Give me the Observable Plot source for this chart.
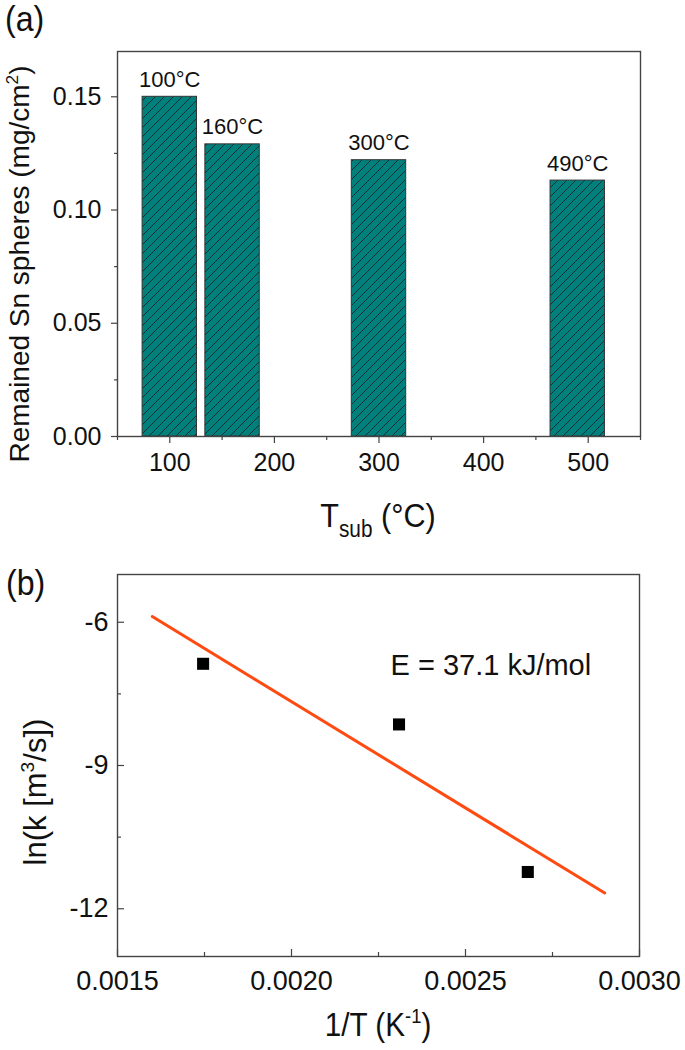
<!DOCTYPE html>
<html><head><meta charset="utf-8">
<script src="https://cdn.jsdelivr.net/npm/d3@7"></script>
<script src="https://cdn.jsdelivr.net/npm/@observablehq/plot@0.6"></script>
<style>
html,body{margin:0;padding:0;background:#fff;}
#wrap{width:685px;height:1050px;position:relative;overflow:hidden;}
#wrap svg{display:block;overflow:visible;}
</style></head><body>
<svg width="0" height="0" style="position:absolute">
<defs>
<pattern id="hatch" patternUnits="userSpaceOnUse" width="9" height="9">
<rect width="9" height="9" fill="#00807d"/>
<path d="M-2,2 L2,-2 M0,9 L9,0 M7,11 L11,7" stroke="#12302f" stroke-width="1"/>
</pattern>
</defs></svg>
<div id="wrap"></div>
<script>
// ---------- Panel (a) data ----------
const temps = [100, 160, 300, 490];
const remained = [0.150, 0.129, 0.122, 0.113];
const barLabels = ["100°C", "160°C", "300°C", "490°C"];
const xTicksA = [100, 200, 300, 400, 500];
const xMinorA = [50, 150, 250, 350, 450, 550];
const yTicksA = [0, 0.05, 0.10, 0.15];
const yMinorA = [0.025, 0.075, 0.125];

// ---------- Panel (b) data ----------
const invT = [0.001746, 0.002309, 0.002679];
const lnK = [-6.87, -8.14, -11.23];
const fitInvT = [0.0016, 0.0029];
const fitLnK = [-5.88, -11.67];
const xTicksB = [0.0015, 0.0020, 0.0025, 0.0030];
const xMinorB = [0.00175, 0.00225, 0.00275];
const yTicksB = [-6, -9, -12];
const yMinorB = [-7.5, -10.5];
const annotation = ["E = 37.1 kJ/mol"];

const FONT = "'Liberation Sans', Arial, Helvetica, sans-serif";
const AX = "#444";

function addText(svg, x, y, size, parts, rotate, anchor, sx) {
  const t = d3.select(svg).append("text")
    .attr("transform", `translate(${x},${y})` + (rotate ? ` rotate(${rotate})` : "") + (sx ? ` scale(${sx},1)` : ""))
    .attr("text-anchor", anchor || "middle")
    .attr("font-family", FONT)
    .attr("font-size", size)
    .attr("fill", "#111");
  let shift = 0;
  for (const [str, kind] of parts) {
    let target = 0, fs = size;
    if (kind === "sup") { target = -0.4 * size; fs = 0.62 * size; }
    if (kind === "sub") { target = 0.3 * size; fs = 0.68 * size; }
    t.append("tspan").attr("dy", target - shift).attr("font-size", fs).text(str);
    shift = target;
  }
  return t;
}

const wrap = document.getElementById("wrap");

// ---------- Chart (a) ----------
const bars = temps.map((t, i) => ({t, v: remained[i], label: barLabels[i]}));
const chartA = Plot.plot({
  width: 685, height: 550,
  marginTop: 51, marginLeft: 117, marginRight: 45, marginBottom: 114,
  style: {fontFamily: FONT, background: "white", color: "#222", overflow: "visible"},
  x: {domain: [50, 550]},
  y: {domain: [0, 0.17]},
  marks: [
    Plot.rect(bars, {x1: d => d.t - 26, x2: d => d.t + 26, y1: 0, y2: "v",
      fill: "url(#hatch)", stroke: "#333", strokeWidth: 1}),
    Plot.text(bars, {x: "t", y: "v", text: "label", lineAnchor: "bottom", dy: -10,
      fontSize: 22, fill: "#111"}),
    Plot.frame({stroke: AX, strokeWidth: 1.4}),
    Plot.axisX({ticks: xTicksA, tickSize: 7, text: null, color: AX, strokeWidth: 1.2, label: null}),
    Plot.axisX({ticks: xMinorA, tickSize: 4, text: null, color: AX, strokeWidth: 1.2, label: null}),
    Plot.axisX({ticks: xTicksA, tickSize: 0, tickPadding: 17, fontSize: 25, color: "#111", label: null}),
    Plot.axisY({ticks: yTicksA, tickSize: 6, text: null, color: AX, strokeWidth: 1.2, label: null}),
    Plot.axisY({ticks: yMinorA, tickSize: 3, text: null, color: AX, strokeWidth: 1.2, label: null}),
    Plot.axisY({ticks: yTicksA, tickSize: 0, tickPadding: 16, tickFormat: d => d.toFixed(2),
      fontSize: 25, color: "#111", label: null})
  ]
});
wrap.appendChild(chartA);
addText(chartA, 5, 31, 35, [["(a)"]], 0, "start", 0.92);
addText(chartA, 29, 264, 28, [["Remained Sn spheres (mg/cm"], ["2", "sup"], [")"]], -90);
addText(chartA, 378, 527, 34, [["T"], ["sub", "sub"], [" (°C)"]], 0, "middle", 0.9);

// ---------- Chart (b) ----------
const pts = invT.map((x, i) => ({x, y: lnK[i]}));
const fit = fitInvT.map((x, i) => ({x, y: fitLnK[i]}));
const chartB = Plot.plot({
  width: 685, height: 500,
  marginTop: 24, marginLeft: 117, marginRight: 46, marginBottom: 94,
  style: {fontFamily: FONT, background: "white", color: "#222", overflow: "visible"},
  x: {domain: [0.0015, 0.0030]},
  y: {domain: [-13, -5]},
  marks: [
    Plot.frame({stroke: AX, strokeWidth: 1.4}),
    Plot.axisX({ticks: xTicksB, tickSize: -7, text: null, color: AX, strokeWidth: 1.2, label: null}),
    Plot.axisX({ticks: xMinorB, tickSize: -4, text: null, color: AX, strokeWidth: 1.2, label: null}),
    Plot.axisX({ticks: xTicksB, tickSize: 0, tickPadding: 14, tickFormat: d => d.toFixed(4),
      fontSize: 27, color: "#111", label: null}),
    Plot.axisY({ticks: yTicksB, tickSize: -7, text: null, color: AX, strokeWidth: 1.2, label: null}),
    Plot.axisY({ticks: yMinorB, tickSize: -4, text: null, color: AX, strokeWidth: 1.2, label: null}),
    Plot.axisY({ticks: yTicksB, tickSize: 0, tickPadding: 9, tickFormat: d => String(d),
      fontSize: 27, color: "#111", label: null}),
    Plot.line(fit, {x: "x", y: "y", stroke: "#ff4a12", strokeWidth: 3}),
    Plot.dot(pts, {x: "x", y: "y", symbol: "square", fill: "#000", r: 6.8}),
    Plot.text(annotation, {text: d => d, frameAnchor: "top-left", textAnchor: "start",
      lineAnchor: "middle", dx: 273, dy: 91, fontSize: 29, fill: "#111"})
  ]
});
wrap.appendChild(chartB);
addText(chartB, 6, 45, 35, [["(b)"]], 0, "start", 0.92);
addText(chartB, 46, 242, 31, [["ln(k [m"], ["3", "sup"], ["/s])"]], -90);
addText(chartB, 378, 486, 33, [["1/T (K"], ["-1", "sup"], [")"]], 0, "middle", 0.9);
</script>
</body></html>
